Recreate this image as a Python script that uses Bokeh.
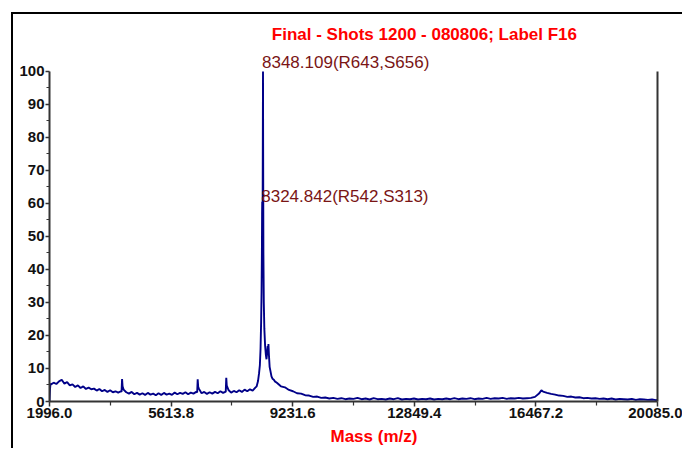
import numpy as np
from bokeh.plotting import figure
from bokeh.models import (FixedTicker, PrintfTickFormatter, LinearAxis, Label,
                          Range1d, ColumnDataSource, Title)
from bokeh.embed import file_html
from bokeh.resources import INLINE

# ---------------- data ----------------
X_MIN, X_MAX = 1996.0, 20085.0
Y_MIN, Y_MAX = 0, 100
X_TICKS = [1996.0, 5613.8, 9231.6, 12849.4, 16467.2, 20085.0]
X_MINOR = [3804.9, 7422.7, 11040.5, 14658.3, 18276.1]
Y_TICKS = [0, 10, 20, 30, 40, 50, 60, 70, 80, 90, 100]
Y_MINOR = [5, 15, 25, 35, 45, 55, 65, 75, 85, 95]

TITLE = "Final - Shots 1200 - 080806; Label F16"
X_LABEL = "Mass (m/z)"

# start of the trace
START_MASS = [1996, 2010, 2025]
START_INT = [0.0, 3.5, 5.4]

# low-mass baseline, sampled every 80 Da from 2040
LOW_START, LOW_STEP = 2040, 80
LOW_INT = [5.2, 5.7, 5.3, 6.1, 6.6, 5.4, 5.9, 4.9, 5.2, 4.4,
           4.9, 4.1, 4.6, 3.8, 4.2, 3.7, 3.9, 3.3, 3.8, 3.1,
           3.5, 2.9, 3.4, 2.8, 3.1, 2.7, 3.1, 3.6, 2.8, 2.4,
           2.9, 2.2, 2.6, 2.1, 2.5, 2.0, 2.6, 2.1, 2.4, 1.9,
           2.5, 2.0, 2.6, 2.1, 2.4, 2.0, 2.7, 2.2, 2.6, 2.3,
           2.8, 2.2, 2.7, 2.4, 2.9, 3.9, 2.5, 2.9, 2.3, 2.8,
           2.4, 2.9, 2.5, 3.1, 2.6, 3.0, 3.5, 2.7, 3.2, 2.8,
           3.4, 2.9, 3.6, 3.1, 3.7, 3.3, 4.2]

# small spikes
SPIKE_MASS = [4140, 4155, 4170, 6390, 6405, 6420, 7255, 7270]
SPIKE_INT = [3.0, 6.8, 4.6, 2.8, 6.7, 4.4, 7.2, 4.8]

# main peak cluster
PEAK_MASS = [8160, 8200, 8230, 8255, 8275, 8292, 8305, 8315, 8321, 8324.842,
             8330, 8338, 8344, 8348.109, 8352, 8360, 8372, 8388, 8410, 8435,
             8452, 8470, 8488, 8500, 8510, 8525, 8545, 8570, 8600, 8630,
             8670, 8700]
PEAK_INT = [4.6, 6.2, 8.5, 11.0, 16.0, 24.0, 33.0, 45.0, 57.0, 60.5,
            47.0, 62.0, 85.0, 100.0, 78.0, 45.0, 30.0, 22.0, 17.0, 14.0,
            12.8, 14.5, 16.8, 15.5, 17.4, 14.0, 10.5, 9.2, 7.6, 6.9,
            6.6, 6.1]

# high-mass baseline, sampled every 120 Da from 8760
HIGH_START, HIGH_STEP = 8760, 120
HIGH_INT = [5.7, 4.6, 4.3, 3.5, 3.1, 2.5, 2.4, 1.9, 1.8, 1.4,
            1.5, 1.1, 1.2, 0.9, 1.1, 0.8, 1.0, 0.7, 0.9, 0.8,
            1.1, 0.7, 0.9, 0.6, 1.0, 0.7, 0.8, 0.6, 0.9, 0.7,
            1.0, 0.6, 0.8, 0.7, 0.9, 0.6, 0.8, 0.7, 0.9, 0.6,
            0.8, 0.7, 0.9, 0.7, 1.0, 0.7, 0.9, 0.8, 1.0, 0.7,
            0.9, 0.8, 1.1, 0.8, 1.0, 0.9, 1.1, 0.8, 1.0, 0.9,
            1.1, 0.9, 1.0, 1.1, 1.4, 2.4, 3.0, 2.6, 2.3, 2.1,
            1.8, 1.7, 1.4, 1.5, 1.2, 1.3, 1.0, 1.1, 0.9, 1.0,
            0.8, 0.9, 0.7, 0.9, 0.6, 0.8, 0.7, 0.6, 0.8, 0.5,
            0.7, 0.6, 0.5, 0.6, 0.4]

BUMP_MASS = [16630]
BUMP_INT = [3.4]

END_MASS = [20085]
END_INT = [0.5]

# peak annotations
ANNOT_MASS = [8348.109, 8324.842]
ANNOT_INT = [100.0, 60.5]
ANNOT_TEXT = ["8348.109(R643,S656)", "8324.842(R542,S313)"]

# ---------------- assemble trace ----------------
low_mass = [LOW_START + i * LOW_STEP for i in range(len(LOW_INT))]
high_mass = [HIGH_START + i * HIGH_STEP for i in range(len(HIGH_INT))]
mass = np.array(START_MASS + low_mass + SPIKE_MASS + PEAK_MASS + high_mass + BUMP_MASS + END_MASS, dtype=float)
inten = np.array(START_INT + LOW_INT + SPIKE_INT + PEAK_INT + HIGH_INT + BUMP_INT + END_INT, dtype=float)
order = np.argsort(mass, kind="stable")
src = ColumnDataSource(dict(mass=mass[order], inten=inten[order]))

FONT = "Liberation Sans"
AXIS_COLOR = "#333333"
LABEL_Y_OFFSETS = [9, 5]   # style: pixel lift of each peak label

# the plot area runs above 100 so the title and peak labels sit inside it
p = figure(width=671, height=436, output_backend="svg", toolbar_location=None,
           x_range=Range1d(X_MIN, X_MAX), y_range=Range1d(Y_MIN, 117.27),
           min_border_left=36, min_border_right=27, min_border_top=0, min_border_bottom=49,
           background_fill_color="white", border_fill_color="white",
           margin=(12, 0, 0, 11),
           styles={"border-left": "2px solid black", "border-top": "2px solid black"})
p.outline_line_color = None
p.grid.visible = False

p.line("mass", "inten", source=src, line_color="#000088", line_width=1.9)

# axes styling
xa = p.xaxis[0]
xa.ticker = FixedTicker(ticks=X_TICKS, minor_ticks=X_MINOR)
xa.formatter = PrintfTickFormatter(format="%.1f")
ya = p.yaxis[0]
ya.ticker = FixedTicker(ticks=Y_TICKS, minor_ticks=Y_MINOR)
ya.bounds = (Y_MIN, Y_MAX)
for ax in (xa, ya):
    ax.axis_line_color = AXIS_COLOR
    ax.axis_line_width = 2
    ax.major_tick_line_color = AXIS_COLOR
    ax.major_tick_line_width = 1.5
    ax.minor_tick_line_color = AXIS_COLOR
    ax.minor_tick_line_width = 1.2
    ax.major_tick_in = 0
    ax.minor_tick_in = 0
    ax.major_label_text_font = FONT
    ax.major_label_text_font_style = "bold"
    ax.major_label_text_font_size = "15px"
    ax.major_label_text_color = "#111111"
xa.major_tick_out = 5
xa.minor_tick_out = 4
xa.major_label_standoff = 1
xa.major_label_text_line_height = 0.9
ya.major_tick_out = 4
ya.minor_tick_out = 3
ya.major_label_standoff = 1

ra = LinearAxis(ticker=FixedTicker(ticks=[]), major_label_text_font_size="0px",
                axis_line_color=AXIS_COLOR, axis_line_width=2, bounds=(Y_MIN, Y_MAX),
                major_tick_line_color=None, minor_tick_line_color=None)
p.add_layout(ra, "right")

# x-axis label (placed below the axis, shifted right as in the original)
p.add_layout(Title(text=X_LABEL, align="left", offset=281, standoff=9,
                   text_font=FONT, text_font_style="bold", text_font_size="17px",
                   text_color="#ff0000"), "below")

# title inside the extended plot area
p.add_layout(Label(x=13150, y=111.2, text=TITLE, text_align="center", text_baseline="middle",
                   text_font=FONT, text_font_style="bold", text_font_size="17px",
                   text_color="#ff0000"))

for m, h, t, dy in zip(ANNOT_MASS, ANNOT_INT, ANNOT_TEXT, LABEL_Y_OFFSETS):
    p.add_layout(Label(x=m, y=h, text=t, text_align="left", text_baseline="alphabetic",
                       x_offset=-1, y_offset=dy,
                       text_font=FONT, text_font_size="17px", text_color="#7a1515"))

open("out.html", "w").write(file_html(p, INLINE))
